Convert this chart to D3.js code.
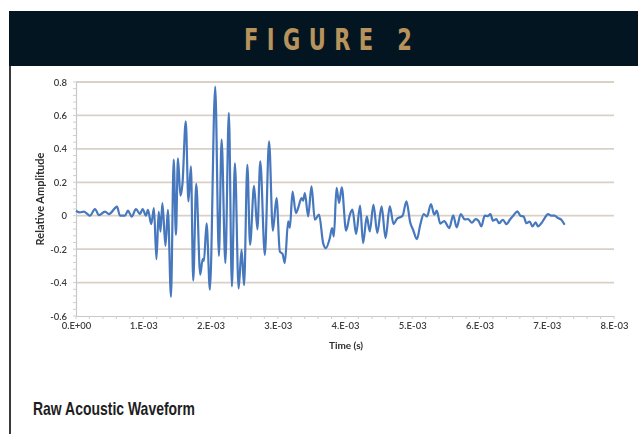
<!DOCTYPE html>
<html>
<head>
<meta charset="utf-8">
<script src="https://cdn.jsdelivr.net/npm/d3@7"></script>
<style>
  html, body { margin: 0; padding: 0; background: #ffffff; }
  svg { display: block; }
</style>
</head>
<body>
<svg id="fig" width="638" height="434"></svg>
<script>
// Sampled waveform: time in milliseconds and relative amplitude
const timeMs = [
  0.000, 0.059, 0.119, 0.163, 0.208, 0.282, 0.342, 0.431, 0.490, 0.579,
  0.609, 0.654, 0.728, 0.773, 0.828, 0.892, 0.951, 0.991, 1.040, 1.070,
  1.119, 1.159, 1.196, 1.230, 1.256, 1.285, 1.330, 1.367, 1.412, 1.453,
  1.486, 1.516, 1.553, 1.583, 1.632, 1.672, 1.709, 1.743, 1.788, 1.847,
  1.884, 1.902, 1.942, 1.991, 2.070, 2.125, 2.165, 2.221, 2.273, 2.318,
  2.363, 2.418, 2.462, 2.499, 2.548, 2.588, 2.648, 2.697, 2.740, 2.808,
  2.871, 2.927, 2.982, 3.031, 3.071, 3.105, 3.155, 3.180, 3.220, 3.269,
  3.303, 3.354, 3.377, 3.403, 3.452, 3.502, 3.551, 3.615, 3.675, 3.715,
  3.774, 3.808, 3.834, 3.874, 3.912, 3.952, 4.016, 4.071, 4.111, 4.165,
  4.224, 4.269, 4.324, 4.368, 4.423, 4.480, 4.544, 4.603, 4.666, 4.722,
  4.770, 4.856, 4.914, 4.970, 5.012, 5.070, 5.119, 5.171, 5.220, 5.278,
  5.327, 5.364, 5.416, 5.475, 5.550, 5.609, 5.661, 5.721, 5.780, 5.829,
  5.887, 5.944, 5.988, 6.028, 6.077, 6.126, 6.162, 6.200, 6.251, 6.290,
  6.349, 6.400, 6.459, 6.513, 6.563, 6.608, 6.657, 6.697, 6.746, 6.786,
  6.835, 6.869, 6.920, 6.969, 7.018, 7.068, 7.117, 7.166, 7.217, 7.266
];
const amplitude = [
  0.030, 0.020, 0.025, 0.012, 0.000, 0.040, 0.003, 0.025, 0.010, 0.045,
  0.055, 0.000, 0.000, 0.030, -0.005, 0.040, 0.010, 0.040, 0.000, 0.035,
  -0.050, 0.045, -0.260, 0.025, -0.095, 0.075, -0.180, 0.035, -0.485, 0.335,
  -0.115, 0.343, 0.120, 0.190, 0.565, 0.085, 0.295, -0.388, 0.190, -0.352,
  -0.260, -0.270, -0.046, -0.443, 0.772, -0.240, 0.455, -0.283, 0.615, -0.423,
  0.313, -0.436, -0.204, -0.416, 0.305, -0.174, 0.178, -0.082, 0.325, -0.234,
  0.445, -0.090, 0.106, -0.214, -0.228, -0.282, -0.034, -0.072, 0.145, 0.016,
  0.046, 0.106, 0.090, 0.136, -0.004, 0.176, -0.024, 0.006, -0.164, -0.194,
  -0.134, -0.074, -0.124, 0.166, 0.076, 0.170, -0.090, 0.004, 0.036, -0.110,
  0.060, -0.164, -0.004, -0.094, 0.066, -0.104, 0.056, -0.134, 0.056, -0.050,
  -0.020, 0.000, 0.086, -0.040, -0.084, -0.140, -0.054, 0.010, -0.004, 0.070,
  0.006, 0.030, -0.047, -0.032, -0.074, 0.002, -0.070, 0.010, -0.022, -0.020,
  -0.042, -0.020, -0.032, -0.064, 0.000, -0.002, 0.010, -0.030, -0.020, -0.045,
  -0.024, -0.050, -0.020, 0.006, 0.026, 0.000, -0.005, -0.045, -0.035, -0.064,
  -0.040, -0.064, -0.045, -0.014, 0.010, 0.000, 0.000, -0.014, -0.024, -0.054
];

// Axis ticks and labels
const yTicks = [-0.6, -0.4, -0.2, 0, 0.2, 0.4, 0.6, 0.8];
const yTickLabels = ["-0.6", "-0.4", "-0.2", "0", "0.2", "0.4", "0.6", "0.8"];
const xTicks = [0, 1e-3, 2e-3, 3e-3, 4e-3, 5e-3, 6e-3, 7e-3, 8e-3];
const xTickLabels = ["0.E+00", "1.E-03", "2.E-03", "3.E-03", "4.E-03", "5.E-03", "6.E-03", "7.E-03", "8.E-03"];

const figureTitle = "FIGURE 2";
const caption = "Raw Acoustic Waveform";
const xTitle = "Time (s)";
const yTitle = "Relative Amplitude";

const svg = d3.select("#fig");

// Soft focus used for the plotted figure
svg.append("defs").append("filter")
  .attr("id", "soft")
  .attr("x", "-5%").attr("y", "-5%").attr("width", "110%").attr("height", "110%")
  .append("feGaussianBlur").attr("stdDeviation", 0.45);

// Fit a text element horizontally into a given width (condensed look)
function fitWidth(sel, x0, baseline, width) {
  const w = sel.node().getBBox().width;
  const sx = width / w;
  sel.attr("x", 0).attr("y", 0)
     .attr("transform", `translate(${x0},${baseline}) scale(${sx},1)`);
}

// Header band
svg.append("rect")
  .attr("x", 9).attr("y", 11).attr("width", 629).attr("height", 55)
  .attr("fill", "#031520");
const titleText = svg.append("text")
  .attr("font-family", "'DejaVu Sans', sans-serif")
  .attr("font-weight", 700)
  .attr("font-size", 30)
  .attr("fill", "#b8935c")
  .text(figureTitle.split("").join("\u2009\u2009"));
fitWidth(titleText, 244, 50, 168);

// Left rule of the panel
svg.append("rect")
  .attr("x", 9).attr("y", 66).attr("width", 2).attr("height", 368)
  .attr("fill", "#3a3a3a");

// Caption
const captionText = svg.append("text")
  .attr("font-family", "'Liberation Sans', Arial, sans-serif")
  .attr("font-weight", 700)
  .attr("font-size", 18)
  .attr("fill", "#1e1e1e")
  .text(caption);
fitWidth(captionText, 33, 415, 162);

// Chart
const x = d3.scaleLinear().domain([0, 8e-3]).range([76, 614]);
const y = d3.scaleLinear().domain([-0.6, 0.8]).range([316, 82]);

const chart = svg.append("g").attr("class", "chart").attr("filter", "url(#soft)");

// Horizontal gridlines
chart.append("g")
  .selectAll("line")
  .data(yTicks.filter(v => v !== -0.6))
  .join("line")
  .attr("x1", x(0)).attr("x2", x(8e-3))
  .attr("y1", d => y(d)).attr("y2", d => y(d))
  .attr("stroke", "#d9d0c6")
  .attr("stroke-width", 1.8);

const tickFont = "Lato, 'Open Sans', sans-serif";

// Y axis
const yAxis = d3.axisLeft(y)
  .tickValues(yTicks)
  .tickFormat((d, i) => yTickLabels[i])
  .tickSize(0)
  .tickPadding(9);
const yG = chart.append("g").attr("transform", `translate(${x(0)},0)`).call(yAxis);
yG.select(".domain").attr("stroke", "#c8c8c8").attr("stroke-width", 1.2);
yG.selectAll("text")
  .attr("font-family", tickFont).attr("font-size", 9.5)
  .attr("font-weight", 600).attr("fill", "#3c3c3c");

// Y minor ticks
chart.append("g")
  .selectAll("line")
  .data(d3.range(-0.6, 0.8001, 0.04))
  .join("line")
  .attr("x1", x(0) - 3).attr("x2", x(0))
  .attr("y1", d => y(d)).attr("y2", d => y(d))
  .attr("stroke", "#cfcfcf").attr("stroke-width", 1);

// X axis
const xAxis = d3.axisBottom(x)
  .tickValues(xTicks)
  .tickFormat((d, i) => xTickLabels[i])
  .tickSize(0)
  .tickPadding(6);
const xG = chart.append("g").attr("transform", `translate(0,${y(-0.6)})`).call(xAxis);
xG.select(".domain").attr("stroke", "#c8c8c8").attr("stroke-width", 1.2);
xG.selectAll("text")
  .attr("font-family", tickFont).attr("font-size", 9.5)
  .attr("font-weight", 600).attr("fill", "#3c3c3c");

// X minor ticks
chart.append("g")
  .selectAll("line")
  .data(d3.range(0, 8.0001e-3, 0.2e-3))
  .join("line")
  .attr("x1", d => x(d)).attr("x2", d => x(d))
  .attr("y1", y(-0.6)).attr("y2", y(-0.6) + 3)
  .attr("stroke", "#cfcfcf").attr("stroke-width", 1);

// Axis titles
chart.append("text")
  .attr("x", 346).attr("y", 349)
  .attr("text-anchor", "middle")
  .attr("font-family", tickFont).attr("font-size", 10)
  .attr("font-weight", 700).attr("fill", "#2e2e2e")
  .text(xTitle);
chart.append("text")
  .attr("transform", `translate(44,${y(0.1)}) rotate(-90)`)
  .attr("text-anchor", "middle")
  .attr("font-family", tickFont).attr("font-size", 11)
  .attr("font-weight", 700).attr("fill", "#2e2e2e")
  .text(yTitle);

// Waveform
const samples = timeMs.map((t, i) => ({ t: t * 1e-3, v: amplitude[i] }));
const line = d3.line()
  .x(d => x(d.t))
  .y(d => y(d.v))
  .curve(d3.curveMonotoneX);
chart.append("path")
  .datum(samples)
  .attr("d", line)
  .attr("fill", "none")
  .attr("stroke", "#4678bd")
  .attr("stroke-width", 2.2)
  .attr("stroke-linejoin", "round");
</script>
</body>
</html>
